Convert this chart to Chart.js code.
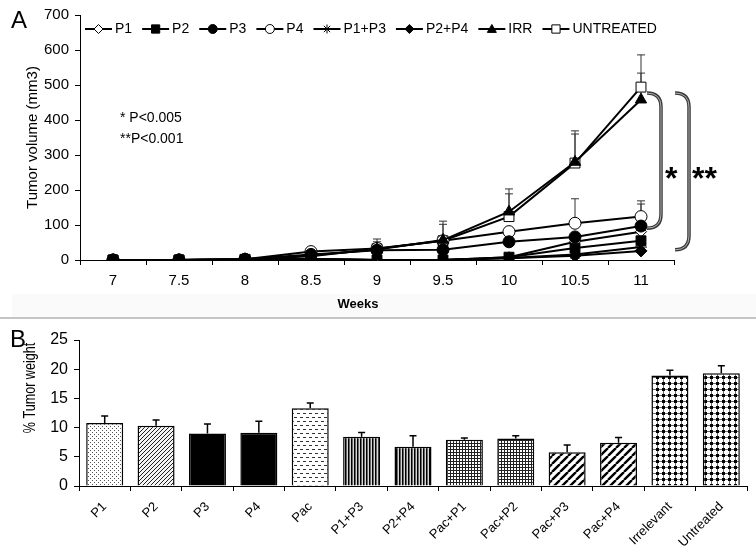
<!DOCTYPE html>
<html><head><meta charset="utf-8">
<script src="https://cdn.jsdelivr.net/npm/chart.js@4.4.1/dist/chart.umd.min.js"></script>
<style>
html,body{margin:0;padding:0;background:#fff;}
#wrap{position:relative;width:756px;height:553px;overflow:hidden;background:#fff;}
#a{position:absolute;left:0;top:0;width:756px;height:317px;}
#b{position:absolute;left:0;top:320px;width:756px;height:233px;}
#sep{position:absolute;left:0;top:317px;width:756px;height:2px;background:#c4c4c4;}
</style></head><body>
<div id="wrap"><div id="a"><canvas id="ca"></canvas></div><div id="sep"></div><div id="b"><canvas id="cb"></canvas></div></div>
<script>
// ---------- Panel A data ----------
const weeks = ['7','7.5','8','8.5','9','9.5','10','10.5','11'];
const seriesNames = ['P1','P2','P3','P4','P1+P3','P2+P4','IRR','UNTREATED'];
const p1 = [0,0,1,3,0,0,8,52,81];
const p2 = [0,0,1,3,0,0,8,34,55];
const p3 = [0,0,2,16,28,29,52,66,97];
const p4 = [0,0,2,24,33,55,81,105,124];
const p1p3 = [0,0,1,2,0,0,6,16,37];
const p2p4 = [0,0,1,2,0,0,5,12,26];
const irr = [0,0,2,13,30,57,138,280,458];
const untreated = [0,0,2,11,32,55,124,277,494];
// upper error bars
const p3Err = [0,0,0,0,0,0,0,0,63];
const p4Err = [0,0,0,0,0,0,0,70,45];
const irrErr = [0,0,0,0,22,45,51,80,76];
const untreatedErr = [0,0,0,0,28,56,79,92,92];
const volumeTicks = [0,100,200,300,400,500,600,700];
const pNotes = ['* P<0.005','**P<0.001'];
const bracketLabels = ['*','**'];
const bracketFrom = [477,477];
const bracketTo = [91,29];

// ---------- Panel B data ----------
const groups = ['P1','P2','P3','P4','Pac','P1+P3','P2+P4','Pac+P1','Pac+P2','Pac+P3','Pac+P4','Irrelevant','Untreated'];
const weight = [10.8,10.3,9.0,9.1,13.3,8.45,6.7,7.9,8.15,5.8,7.4,18.9,19.3];
const weightErr = [1.2,1.0,1.6,2.0,0.9,0.7,1.9,0.3,0.45,1.2,0.9,0.9,1.3];
const weightTicks = [0,5,10,15,20,25];

const FONT = "'Liberation Sans', Arial, sans-serif";
Chart.defaults.font.family = FONT;
Chart.defaults.color = '#000';

// ---------- marker helpers ----------
function drawMarker(g, style, x, y, r, filled){
  g.save();
  g.fillStyle = filled ? '#000' : '#fff';
  g.strokeStyle = '#000'; g.lineWidth = 1;
  g.beginPath();
  if (style==='circle'){ g.arc(x,y,r,0,Math.PI*2); g.fill(); g.stroke(); }
  else if (style==='rect'){ const s=r*0.75; g.rect(x-s,y-s,2*s,2*s); g.fill(); g.stroke(); }
  else if (style==='rectRot'){ g.moveTo(x,y-r); g.lineTo(x+r,y); g.lineTo(x,y+r); g.lineTo(x-r,y); g.closePath(); g.fill(); g.stroke(); }
  else if (style==='triangle'){ g.moveTo(x,y-r); g.lineTo(x+r,y+r*0.75); g.lineTo(x-r,y+r*0.75); g.closePath(); g.fill(); g.stroke(); }
  else if (style==='star'){ for(let k=0;k<4;k++){const a=k*Math.PI/4; g.moveTo(x-Math.cos(a)*r,y-Math.sin(a)*r); g.lineTo(x+Math.cos(a)*r,y+Math.sin(a)*r);} g.stroke(); }
  g.restore();
}
const styleList = [['rectRot',false],['rect',true],['circle',true],['circle',false],['star',false],['rectRot',true],['triangle',true],['rect',false]];

const seriesData = [p1,p2,p3,p4,p1p3,p2p4,irr,untreated];
const seriesErr = [null,null,p3Err,p4Err,null,null,irrErr,untreatedErr];
const radii = [5.5,7,6,6,6,6,6.5,7];
const drawOrder = [6,2,1,5,0,3,4,7];

const dsA = seriesNames.map((n,i)=>({
  label:n, data:seriesData[i], borderColor:'#000', borderWidth:2, tension:0, order:drawOrder[i],
  pointStyle:styleList[i][0], pointRadius:radii[i], pointHoverRadius:radii[i],
  pointBackgroundColor: styleList[i][1] ? '#000' : '#fff', pointBorderColor:'#000', pointBorderWidth:1
}));

const annotA = {
  id:'annotA',
  beforeDraw(chart){
    const {ctx}=chart; ctx.save();
    ctx.fillStyle='#fff'; ctx.fillRect(0,0,chart.width,chart.height);
    ctx.fillStyle='#fafafa'; ctx.fillRect(12,294,744,23);
    ctx.restore();
  },
  beforeDatasetsDraw(chart){
    const {ctx, scales:{y}}=chart;
    ctx.save(); ctx.strokeStyle='#333'; ctx.lineWidth=1;
    seriesErr.forEach((err,i)=>{
      if(!err) return;
      const meta=chart.getDatasetMeta(i);
      err.forEach((e,j)=>{
        if(!e) return;
        const x=meta.data[j].x, y0=y.getPixelForValue(seriesData[i][j]), y1=y.getPixelForValue(seriesData[i][j]+e);
        ctx.beginPath(); ctx.moveTo(x,y0); ctx.lineTo(x,y1); ctx.moveTo(x-4,y1); ctx.lineTo(x+4,y1); ctx.stroke();
      });
    });
    ctx.restore();
  },
  afterDraw(chart){
    const {ctx, scales:{x,y}}=chart;
    ctx.save();
    ctx.fillStyle='#000'; ctx.textBaseline='alphabetic'; ctx.textAlign='left';
    ctx.font="24px "+FONT;
    ctx.fillText('A',11,28);
    // x-axis title
    ctx.font="bold 13px "+FONT; ctx.textAlign='center'; ctx.textBaseline='middle';
    ctx.fillText('Weeks',358,304);
    ctx.textAlign='left';
    // legend (line + marker, then label)
    ctx.font="14px "+FONT; ctx.textBaseline='middle';
    let lx = 85; const ly = 29;
    seriesNames.forEach((n,i)=>{
      ctx.strokeStyle='#000'; ctx.lineWidth=2;
      ctx.beginPath(); ctx.moveTo(lx,ly); ctx.lineTo(lx+27,ly); ctx.stroke();
      const st=styleList[i][0];
      drawMarker(ctx, st, lx+13.5, ly, st==='rect'?5.5:4.5, styleList[i][1]);
      ctx.fillStyle='#000';
      ctx.fillText(n, lx+30, ly+0.5);
      lx += 30 + ctx.measureText(n).width + 10;
    });
    ctx.textBaseline='alphabetic';
    ctx.fillText(pNotes[0],120,122);
    ctx.fillText(pNotes[1],120,143);
    const x11 = x.getPixelForValue(weeks.length-1);
    const offs=[[6,20],[34,48]];
    bracketLabels.forEach((lab,k)=>{
      const yT=y.getPixelForValue(bracketFrom[k]), yB=y.getPixelForValue(bracketTo[k]);
      const x0=x11+offs[k][0], xv=x11+offs[k][1];
      const path=()=>{ctx.beginPath(); ctx.moveTo(x0,yT); ctx.quadraticCurveTo(xv,yT,xv,yT+14); ctx.lineTo(xv,yB-14); ctx.quadraticCurveTo(xv,yB,x0,yB);};
      ctx.strokeStyle='#3a3a3a'; ctx.lineWidth=3.5; path(); ctx.stroke();
      ctx.strokeStyle='#b0b0b0'; ctx.lineWidth=1; path(); ctx.stroke();
    });
    ctx.font="bold 32px "+FONT;
    ctx.textAlign='left';
    ctx.fillText(bracketLabels[0], x11+24, 189);
    ctx.fillText(bracketLabels[1], x11+51, 189);
    ctx.restore();
  }
};

new Chart(document.getElementById('ca'), {
  type:'line',
  data:{ labels:weeks, datasets:dsA },
  plugins:[annotA],
  options:{
    responsive:true, maintainAspectRatio:false, animation:false, devicePixelRatio:1,
    layout:{ padding:{left:20, right:82, top:15, bottom:1} },
    plugins:{ tooltip:{enabled:false}, legend:{ display:false } },
    scales:{
      x:{ type:'category', offset:true,
        grid:{ offset:true, drawOnChartArea:false, drawTicks:true, tickLength:5, tickColor:'#000', tickWidth:1 },
        border:{ display:true, color:'#000', width:1 },
        ticks:{ color:'#000', font:{size:15}, padding:7, maxRotation:0, autoSkip:false },
        afterFit:(s)=>{ s.height=56; }
      },
      y:{ min:0, max:700,
        afterBuildTicks:(s)=>{ s.ticks = volumeTicks.map(v=>({value:v})); },
        grid:{ drawOnChartArea:false, drawTicks:true, tickLength:5, tickColor:'#000' },
        border:{ display:true, color:'#000', width:1 },
        ticks:{ color:'#000', font:{size:15}, padding:6 },
        title:{ display:true, text:'Tumor volume (mm3)', color:'#000', font:{size:15}, padding:{top:4,bottom:4} },
        afterFit:(s)=>{ s.width=60; }
      }
    }
  }
});

// ---------- Panel B ----------
function makePattern(w,h,draw){ const c=document.createElement('canvas'); c.width=w; c.height=h; const g=c.getContext('2d'); draw(g,w,h); return g.createPattern(c,'repeat'); }
const patDotsLight = makePattern(4,4,(g)=>{g.fillStyle='#fff';g.fillRect(0,0,4,4);g.fillStyle='#555';g.fillRect(0,0,1,1);g.fillRect(2,2,1,1);});
const patHatch = makePattern(4,4,(g)=>{g.fillStyle='#f4f4f4';g.fillRect(0,0,4,4);g.fillStyle='#222';g.fillRect(0,3,1,1);g.fillRect(1,2,1,1);g.fillRect(2,1,1,1);g.fillRect(3,0,1,1);});
const patDash = makePattern(6,8,(g)=>{g.fillStyle='#fff';g.fillRect(0,0,6,8);g.fillStyle='#333';g.fillRect(0,1,3,1);g.fillRect(3,5,3,1);});
const patVert = makePattern(3,1,(g)=>{g.fillStyle='#000';g.fillRect(0,0,1,1);g.fillStyle='#666';g.fillRect(1,0,1,1);g.fillStyle='#d8d8d8';g.fillRect(2,0,1,1);});
const patGrid = makePattern(3,3,(g)=>{g.fillStyle='#fff';g.fillRect(0,0,3,3);g.fillStyle='#222';g.fillRect(0,0,3,1);g.fillRect(0,0,1,3);});
const patDiag = makePattern(8,8,(g)=>{g.fillStyle='#fff';g.fillRect(0,0,8,8);g.strokeStyle='#000';g.lineWidth=2.4;g.beginPath();for(const o of [0,8,16]){g.moveTo(o-8,8);g.lineTo(o,0);}g.stroke();});
const patCheck = makePattern(6,6,(g)=>{g.fillStyle='#fff';g.fillRect(0,0,6,6);g.fillStyle='#666';g.fillRect(0,3,6,1);g.fillRect(3,0,1,6);g.fillStyle='#000';g.fillRect(2,2,3,3);});
const barFills = [patDotsLight,patHatch,'#000','#000',patDash,patVert,patVert,patGrid,patGrid,patDiag,patDiag,patCheck,patCheck];

const annotB = {
  id:'annotB',
  beforeDraw(chart){ const {ctx}=chart; ctx.save(); ctx.fillStyle='#fff'; ctx.fillRect(0,0,chart.width,chart.height); ctx.restore(); },
  afterDatasetsDraw(chart){
    const {ctx, scales:{y}}=chart; const meta=chart.getDatasetMeta(0);
    ctx.save(); ctx.strokeStyle='#000'; ctx.lineWidth=1.5;
    weight.forEach((v,i)=>{
      const x=meta.data[i].x, y0=y.getPixelForValue(v), y1=y.getPixelForValue(v+weightErr[i]);
      ctx.beginPath(); ctx.moveTo(x,y0); ctx.lineTo(x,y1); ctx.moveTo(x-3.5,y1); ctx.lineTo(x+3.5,y1); ctx.stroke();
    });
    ctx.restore();
  },
  afterDraw(chart){
    const {ctx}=chart; ctx.save(); ctx.fillStyle='#000';
    ctx.font="24px "+FONT; ctx.textAlign='left'; ctx.textBaseline='alphabetic';
    ctx.fillText('B',10,27);
    ctx.translate(30,68); ctx.rotate(-Math.PI/2); ctx.scale(0.74,1);
    ctx.font="17px "+FONT;
    ctx.textAlign='center'; ctx.textBaseline='middle';
    ctx.fillText('% Tumor weight',0,0);
    ctx.restore();
  }
};

new Chart(document.getElementById('cb'), {
  type:'bar',
  data:{ labels:groups, datasets:[{ label:'% Tumor weight', data:weight, backgroundColor:barFills, borderColor:'#000', borderWidth:1.5, barPercentage:0.72, categoryPercentage:1 }] },
  plugins:[annotB],
  options:{
    responsive:true, maintainAspectRatio:false, animation:false, devicePixelRatio:1,
    layout:{ padding:{left:17, right:9, top:20, bottom:0} },
    plugins:{ legend:{display:false}, tooltip:{enabled:false} },
    scales:{
      x:{ offset:true,
        grid:{ offset:true, drawOnChartArea:false, drawTicks:true, tickLength:5, tickColor:'#000' },
        border:{ display:true, color:'#000', width:1 },
        ticks:{ color:'#000', font:{size:13}, padding:8, minRotation:45, maxRotation:45, autoSkip:false },
        afterFit:(s)=>{ s.height=67; }
      },
      y:{ min:0, max:25,
        afterBuildTicks:(s)=>{ s.ticks = weightTicks.map(v=>({value:v})); },
        grid:{ drawOnChartArea:false, drawTicks:true, tickLength:5, tickColor:'#000' },
        border:{ display:true, color:'#000', width:1 },
        ticks:{ color:'#000', font:{size:16}, padding:6 },
        afterFit:(s)=>{ s.width=62; }
      }
    }
  }
});
</script>
</body></html>
